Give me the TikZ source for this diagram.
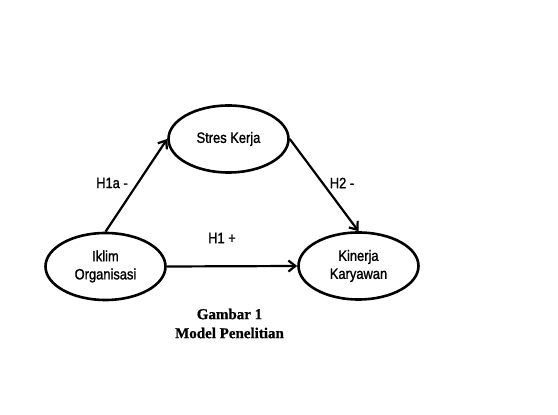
\documentclass[tikz,border=0pt]{standalone}
\usepackage{fontspec}
\setmainfont{Liberation Sans}[FakeStretch=0.86, FakeBold=1.3]
\newfontfamily\capfont{Liberation Serif}[FakeBold=0.8]
\usetikzlibrary{shapes.geometric, arrows.meta}

\tikzset{
	var/.style={ellipse, draw, line width=2.6pt, minimum width=120pt, minimum height=67pt, inner sep=0pt, align=center, font=\fontsize{15}{18}\selectfont},
	hyp/.style={->, >={Straight Barb[length=7pt, width=11pt]}, line width=2.2pt},
	lbl/.style={font=\fontsize{15}{17}\selectfont}
}

\begin{document}
\begin{tikzpicture}[x=1pt, y=1pt]
	\useasboundingbox (0,0) rectangle (558,415);
	\node[var] (stres) at (228.5,276){Stres Kerja};
	\node[var] (iklim) at (105.5,148.5){Iklim\\Organisasi};
	\node[var] (kinerja) at (358.5,149){Kinerja\\Karyawan};
	\draw[hyp] (iklim.north) -- (stres.west);
	\draw[hyp] (stres.east) -- (kinerja.north);
	\draw[hyp] (iklim.east) -- (kinerja.west);
	\node[lbl] (h1a) at (112,232){H1a -};
	\node[lbl] (h2) at (342,232){H2 -};
	\node[lbl] (h1) at (222,177){H1 +};
	% caption
	\node[align=center, font=\capfont\bfseries\fontsize{15}{19}\selectfont] (cap) at (229.5,91.5){Gambar 1\\Model Penelitian};
\end{tikzpicture}
\end{document}
